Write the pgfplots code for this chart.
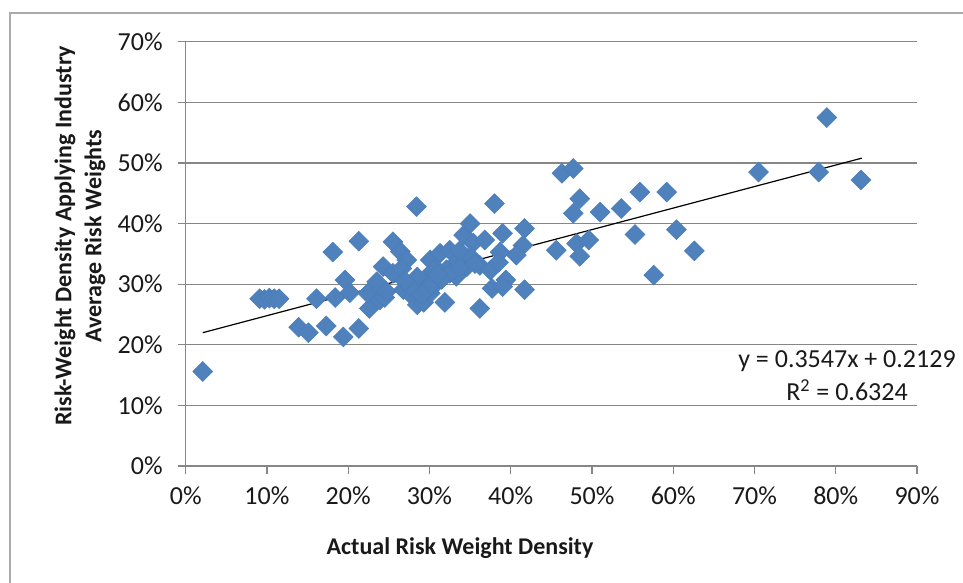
\documentclass[border=0pt]{standalone}
\usepackage{fontspec}
\setmainfont{Carlito}
\usepackage{pgfplots}
\pgfplotsset{compat=1.18}
\definecolor{mk}{HTML}{4F81BD}
\definecolor{mkb}{HTML}{4A7EBB}
\definecolor{gridc}{HTML}{868686}
\begin{document}
\begin{tikzpicture}
\useasboundingbox (0pt,0pt) rectangle (481.5pt,-291.5pt);
\draw[gridc!70, line width=0.6pt] (5pt,-291.5pt) -- (5pt,-6.5pt) -- (481.5pt,-6.5pt);
\begin{axis}[
  at={(92.85pt,-233pt)}, anchor=south west,
  scale only axis, width=365.65pt, height=212.1pt,
  xmin=0, xmax=90, ymin=0, ymax=70,
  xtick={0,10,...,90}, ytick={0,10,...,70},
  axis lines*=left,
  axis line style={gridc, line width=0.6pt},
  tick align=outside, major tick length=4pt,
  tick style={gridc, line width=0.6pt},
  ymajorgrids, grid style={gridc, line width=0.6pt},
  /pgf/number format/assume math mode=true,
  xticklabel={\pgfmathprintnumber{\tick}\%},
  yticklabel={\pgfmathprintnumber{\tick}\%},
  every tick label/.append style={font=\fontsize{13}{15}\selectfont, text=black!90},
  xticklabel style={yshift=-3pt},
  yticklabel style={xshift=-4pt},
  clip=false,
]
\addplot[only marks, mark=square*, mark size=3.5pt,
  mark options={rotate=45, fill=mk, draw=mkb, line width=0.3pt}] coordinates {
(2.1,15.6) (9.1,27.6) (9.7,27.5) (10.3,27.7) (10.9,27.6) (11.5,27.6)
(13.9,22.9) (15.1,22.0) (16.1,27.6) (17.3,23.1) (18.1,35.3) (18.4,27.8)
(19.4,21.3) (19.6,30.7) (20.2,28.6) (21.3,37.1) (21.3,22.7) (22.6,26.0)
(22.4,28.5) (23.5,30.4) (23.9,27.4) (24.3,32.9) (24.5,27.8) (24.7,28.8)
(25.5,37.0) (26.4,35.4) (27.2,34.0) (25.5,31.8) (26.6,32.6) (26.8,29.1)
(28.0,27.9) (28.5,26.6) (29.3,27.0) (29.3,30.7) (28.0,30.1) (30.1,28.5)
(30.8,30.1) (28.5,31.2) (27.6,29.6) (28.4,42.8) (30.1,34.0) (31.3,35.1)
(32.5,35.6) (33.3,33.5) (32.1,32.4) (34.6,32.9) (34.2,38.1) (35.4,36.8)
(35.0,34.6) (30.8,32.6) (33.3,31.3) (31.9,27.0) (29.7,29.0) (32.5,31.8)
(30.5,32.3) (35.0,40.0) (36.8,37.3) (38.0,43.3) (39.0,38.4) (41.7,39.2)
(41.5,36.4) (40.7,34.8) (38.7,35.3) (33.7,35.5) (36.2,33.1) (33.7,32.8)
(37.5,32.3) (39.4,30.7) (37.7,29.3) (39.0,29.6) (41.7,29.1) (36.2,26.0)
(45.6,35.6) (46.3,48.3) (47.7,49.1) (48.5,44.1) (47.7,41.7) (51.0,41.9)
(53.6,42.5) (55.3,38.2) (55.9,45.2) (59.2,45.2) (60.4,39.0) (62.6,35.5)
(57.6,31.5) (48.1,36.7) (48.5,34.6) (49.6,37.3) (70.5,48.5) (77.9,48.5)
(78.9,57.5) (83.1,47.2) (30.2,29.8)
(29.0,28.3) (31.5,30.8) (27.0,30.5) (31.0,31.6) (35.6,33.4) (38.5,33.6)
};
\addplot[black, line width=0.6pt, no marks] coordinates {(2.1,22.0) (83.2,50.8)};
\end{axis}
\node[font=\bfseries\fontsize{12}{14}\selectfont, text=black!90] at (230pt,-274pt) {Actual Risk Weight Density};
\node[rotate=90, align=center, font=\bfseries\fontsize{12}{15}\selectfont, text=black!90] at (40pt,-118pt) {Risk-Weight Density Applying Industry\\Average Risk Weights};
\node[align=center, font=\fontsize{13}{16.5}\selectfont, text=black!90] at (423.5pt,-187.75pt) {y = 0.3547x + 0.2129\\R\textsuperscript{2} = 0.6324};
\end{tikzpicture}
\end{document}
